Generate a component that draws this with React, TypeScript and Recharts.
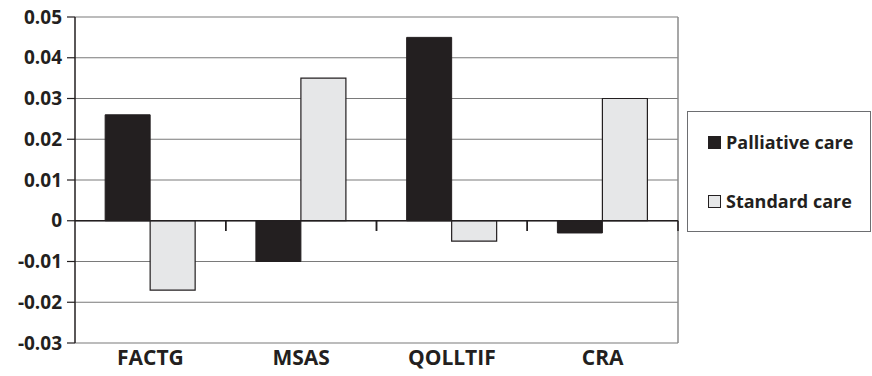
import { BarChart, Bar, XAxis, YAxis, CartesianGrid, ReferenceLine } from "recharts";

const categories = ["FACTG", "MSAS", "QOLLTIF", "CRA"];
const palliative = [0.026, -0.01, 0.045, -0.003];
const standard = [-0.017, 0.035, -0.005, 0.03];
const yTicks = [-0.03, -0.02, -0.01, 0, 0.01, 0.02, 0.03, 0.04, 0.05];
const seriesNames = ["Palliative care", "Standard care"];

const data = categories.map((c, i) => ({ name: c, palliative: palliative[i], standard: standard[i] }));

const FONT = "'Open Sans', sans-serif";
const DARK = "#231f20";
const LIGHT = "#e6e7e8";
const colors = [DARK, LIGHT];
const lastCat = categories[categories.length - 1];

function LegendBox() {
  return (
    <div
      style={{
        position: "absolute",
        left: 687,
        top: 111,
        width: 184,
        height: 121,
        border: "1.5px solid #6d6e71",
        boxSizing: "border-box",
        fontFamily: FONT,
        fontWeight: 700,
        fontSize: 18,
        color: DARK,
        paddingLeft: 20,
        paddingTop: 19,
      }}
    >
      {seriesNames.map((label, i) => (
        <div key={label} style={{ display: "flex", alignItems: "center", height: 22, marginBottom: i === 0 ? 37 : 0 }}>
          <span style={{ width: 11, height: 11, background: colors[i], border: `1px solid ${DARK}`, marginRight: 5, display: "inline-block" }} />
          {label}
        </div>
      ))}
    </div>
  );
}

export default function App() {
  return (
    <div style={{ position: "absolute", left: 0, top: 0, width: 872, height: 376, background: "#fff" }}>
      <BarChart
        width={872}
        height={376}
        data={data}
        margin={{ top: 17, right: 194, bottom: 0, left: 0 }}
        barCategoryGap="20%"
        barGap={0}
      >
        <CartesianGrid vertical={false} stroke="#7a7a7a" strokeWidth={1.2} />
        <XAxis
          dataKey="name"
          height={33}
          axisLine={false}
          tickLine={false}
          tick={{ fontFamily: FONT, fontWeight: 700, fontSize: 21, fill: DARK }}
          tickMargin={1}
        />
        <YAxis
          width={75}
          domain={[-0.03, 0.05]}
          ticks={yTicks}
          interval={0}
          tickFormatter={(v: number) => (v === 0 ? "0" : v.toFixed(2))}
          axisLine={{ stroke: DARK, strokeWidth: 1.5 }}
          tickLine={{ stroke: DARK, strokeWidth: 1.2 }}
          tickSize={8}
          tickMargin={5}
          tick={{ fontFamily: FONT, fontWeight: 700, fontSize: 19, fill: DARK }}
        />
        <ReferenceLine x={lastCat} position="end" stroke="#8a8a8a" strokeWidth={1.5} />
        <Bar dataKey="palliative" name={seriesNames[0]} fill={DARK} stroke={DARK} isAnimationActive={false} />
        <Bar dataKey="standard" name={seriesNames[1]} fill={LIGHT} stroke={DARK} strokeWidth={1.2} isAnimationActive={false} />
        <ReferenceLine y={0} stroke={DARK} strokeWidth={1.5} />
        {categories.map((c) => (
          <ReferenceLine
            key={"end-" + c}
            segment={[{ x: c, y: 0 }, { x: c, y: -0.0025 }]}
            position="end"
            ifOverflow="visible"
            stroke={DARK}
            strokeWidth={1.5}
          />
        ))}
        {categories.slice(1).map((c) => (
          <ReferenceLine
            key={"start-" + c}
            segment={[{ x: c, y: 0 }, { x: c, y: -0.0025 }]}
            position="start"
            ifOverflow="visible"
            stroke={DARK}
            strokeWidth={1.5}
          />
        ))}
      </BarChart>
      <LegendBox />
    </div>
  );
}
